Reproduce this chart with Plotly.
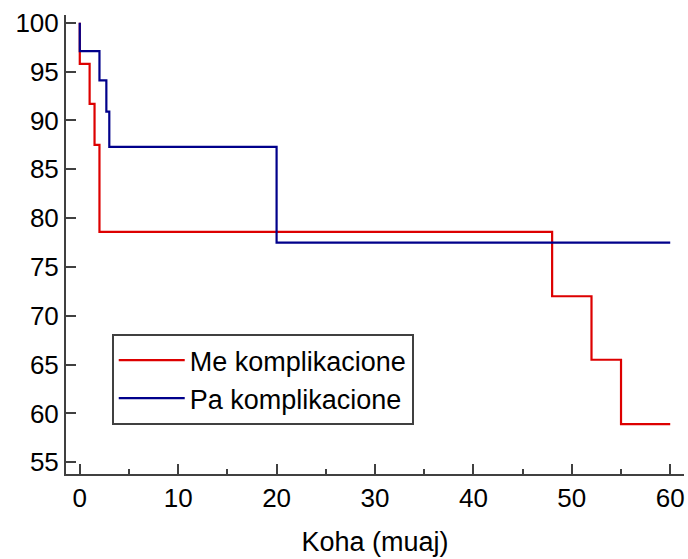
import plotly.graph_objects as go

# Kaplan-Meier step data (time in months, survival %)
red_name = "Me komplikacione"
red_t = [0, 0, 1, 1.5, 2, 48, 52, 55, 60]
red_s = [100, 95.8, 91.7, 87.5, 78.6, 72.0, 65.5, 58.9, 58.9]

blue_name = "Pa komplikacione"
blue_t = [0, 0, 2, 2.7, 3, 20, 60]
blue_s = [100, 97.1, 94.1, 90.9, 87.3, 77.5, 77.5]

x_ticks = [0, 10, 20, 30, 40, 50, 60]
y_ticks = [55, 60, 65, 70, 75, 80, 85, 90, 95, 100]

fig = go.Figure()
fig.add_trace(go.Scatter(x=red_t, y=red_s, mode="lines", line_shape="hv",
                         line=dict(color="#dd0000", width=2.2), name=red_name))
fig.add_trace(go.Scatter(x=blue_t, y=blue_s, mode="lines", line_shape="hv",
                         line=dict(color="#00008b", width=2.2), name=blue_name))

axis_color = "#404040"
family = "Liberation Sans, Arial, sans-serif"

fig.update_layout(
    width=688, height=559,
    margin=dict(l=66, r=4, t=15, b=85),
    plot_bgcolor="white", paper_bgcolor="white",
    font=dict(family=family, size=24, color="black"),
    showlegend=True,
    legend=dict(x=0.074, y=0.305, xanchor="left", yanchor="top",
                bordercolor=axis_color, borderwidth=2, bgcolor="white",
                font=dict(family=family, size=27, color="black"),
                tracegroupgap=0, itemwidth=66),
    xaxis=dict(range=[-1.4, 61.4], tickvals=x_ticks, ticks="inside", ticklen=10,
               tickwidth=2, tickcolor=axis_color, showline=True, linecolor=axis_color,
               linewidth=2, showgrid=False, zeroline=False,
               minor=dict(ticks="inside", ticklen=5, tickwidth=1.5, tickcolor=axis_color, dtick=5, tick0=0),
               title=dict(text="Koha (muaj)", standoff=20,
                          font=dict(family=family, size=27, color="black")),
               tickfont=dict(family=family, size=26, color="black")),
    yaxis=dict(range=[53.8, 100.8], tickvals=y_ticks, ticks="inside", ticklen=10,
               tickwidth=2, tickcolor=axis_color, showline=True, linecolor=axis_color,
               linewidth=2, showgrid=False, zeroline=False,
               tickfont=dict(family=family, size=26, color="black")),
)

fig.write_html("out.html")
